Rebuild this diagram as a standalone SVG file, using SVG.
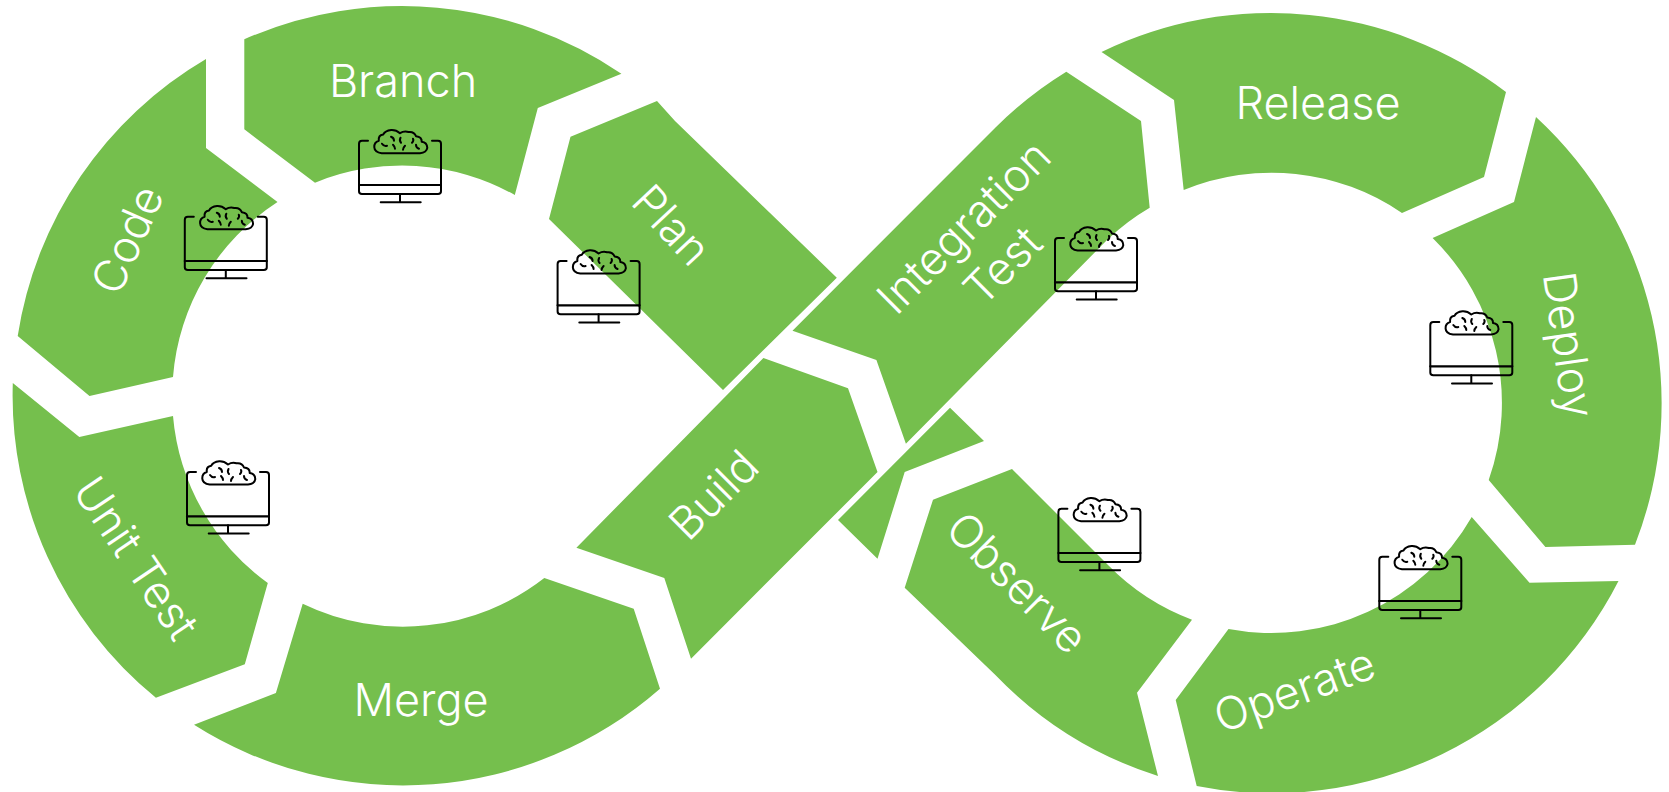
<svg xmlns="http://www.w3.org/2000/svg" width="1669" height="792" viewBox="0 0 1669 792">
<style>
.seg{fill:#75bf4d}
.lbl{font-family:Inter,"Noto Sans","Liberation Sans",sans-serif;font-weight:300;font-size:45px;fill:#fff;text-anchor:middle}
.ico{fill:none;stroke:#000;stroke-width:2;stroke-linecap:round;stroke-linejoin:round}
</style>
<defs>
<g id="monitor" class="ico">
<path d="M9 0H3Q0 0 0 3V50.500Q0 53.300 3 53.300H79Q82 53.300 82 50.500V3Q82 0 79 0H73"/>
<path d="M0 44.300H82" stroke-width="2.200"/>
<path d="M41 53.300V61.500M21.700 61.500H61.700"/>
<path d="M22.700 12.600H61Q67.500 12 68.300 7.200Q68 1.500 62.700 1Q63 -4 57 -4.500Q55 -9.500 49.500 -8.700Q45 -10 41 -7.500Q37 -11 32.200 -10.700Q26 -10 24.300 -6.300Q19 -5.500 19.800 0Q15 1.500 15.300 6.600Q15.500 11.500 22.700 12.600Z"/>
<path d="M32 -4Q35 -3 35 0M41.500 -3Q40 0 42 2M54 -2Q55 0 53 2M23 3Q25 6 28 5M34 4Q36 6 36 8M46 5Q44 7 44 9M57 4Q57 7 60 8"/>
</g>
</defs>
<g id="code"><path class="seg" d="M17.700 336A390 390 0 0 1 206 59V148L277.500 202A230 230 0 0 0 173 377L89.500 396Z"/><text class="lbl" transform="translate(142 246) rotate(-66)">Code</text><use href="#monitor" x="184.800" y="216.700"/></g>
<g id="branch"><path class="seg" d="M244.300 39.300A390 390 0 0 1 621.400 73.700L537.800 108L514.800 195A230 230 0 0 0 315 182.700L244.300 129.300Z"/><text class="lbl" x="403" y="97">Branch</text><use href="#monitor" x="359" y="140.700"/></g>
<g id="plan"><path class="seg" d="M570.500 136.700L657 101L675 121L836.800 277.700L723 390L549 219Z"/><text class="lbl" transform="translate(660 236) rotate(47)">Plan</text><use href="#monitor" x="557.600" y="261"/></g>
<g id="build"><path class="seg" d="M763.400 358L848 388.300L877.500 472L691 658.700L664.300 578L576.400 547.700Z"/><text class="lbl" transform="translate(725 506) rotate(-45)">Build</text></g>
<g id="merge"><path class="seg" d="M194 724.700L275.900 693L302.700 603.700A230 230 0 0 0 544.300 578L633.700 608.700L660 688.700A390 390 0 0 1 194 724.700Z"/><text class="lbl" x="421" y="716">Merge</text></g>
<g id="unit-test"><path class="seg" d="M12.800 383L79.300 437L173 416A230 230 0 0 0 267.800 583L244.800 664.300L155.900 697.700A390 390 0 0 1 12.800 383Z"/><text class="lbl" transform="translate(123 567) rotate(56)">Unit Test</text><use href="#monitor" x="187" y="472"/></g>
<g id="integration-test"><path class="seg" d="M792.500 330.700L996 127A389 389 0 0 1 1066.300 71.700L1141 121L1149.700 207.700A231 231 0 0 0 1108 239L905.900 443.700L876.400 360Z"/><text class="lbl" transform="translate(975 238) rotate(-45)"><tspan x="0" y="0">Integration</tspan><tspan x="0" y="55">Test</tspan></text><use href="#monitor" x="1055" y="238"/></g>
<g id="release"><path class="seg" d="M1101.500 52A389 389 0 0 1 1506 92L1484 177L1402 213A231 231 0 0 0 1183.700 190L1174 100Z"/><text class="lbl" x="1318" y="119">Release</text></g>
<g id="deploy"><path class="seg" d="M1536 117A389 389 0 0 1 1635 544.700L1545.400 547L1488.700 480A231 231 0 0 0 1432.600 238L1514 202Z"/><text class="lbl" transform="translate(1553 347) rotate(82)">Deploy</text><use href="#monitor" x="1430.300" y="322"/></g>
<g id="operate"><path class="seg" d="M1471.700 517L1529.500 582.700L1618.500 581A389 389 0 0 1 1196.700 786L1175.700 700L1228.500 629A231 231 0 0 0 1471.700 517Z"/><text class="lbl" transform="translate(1300 705) rotate(-20)">Operate</text><use href="#monitor" x="1379.300" y="556.700"/></g>
<g id="observe"><path class="seg" d="M950 407.700L984 441L904.700 472L877.500 558.700L838 520Z"/><path class="seg" d="M933 499.700L1012 469L1108 565A231 231 0 0 0 1192 619.700L1137 692.700L1158 776A389 389 0 0 1 995.400 675L904.700 587.700Z"/><text class="lbl" transform="translate(1006 594) rotate(45)">Observe</text><use href="#monitor" x="1058.400" y="508.700"/></g>
</svg>
